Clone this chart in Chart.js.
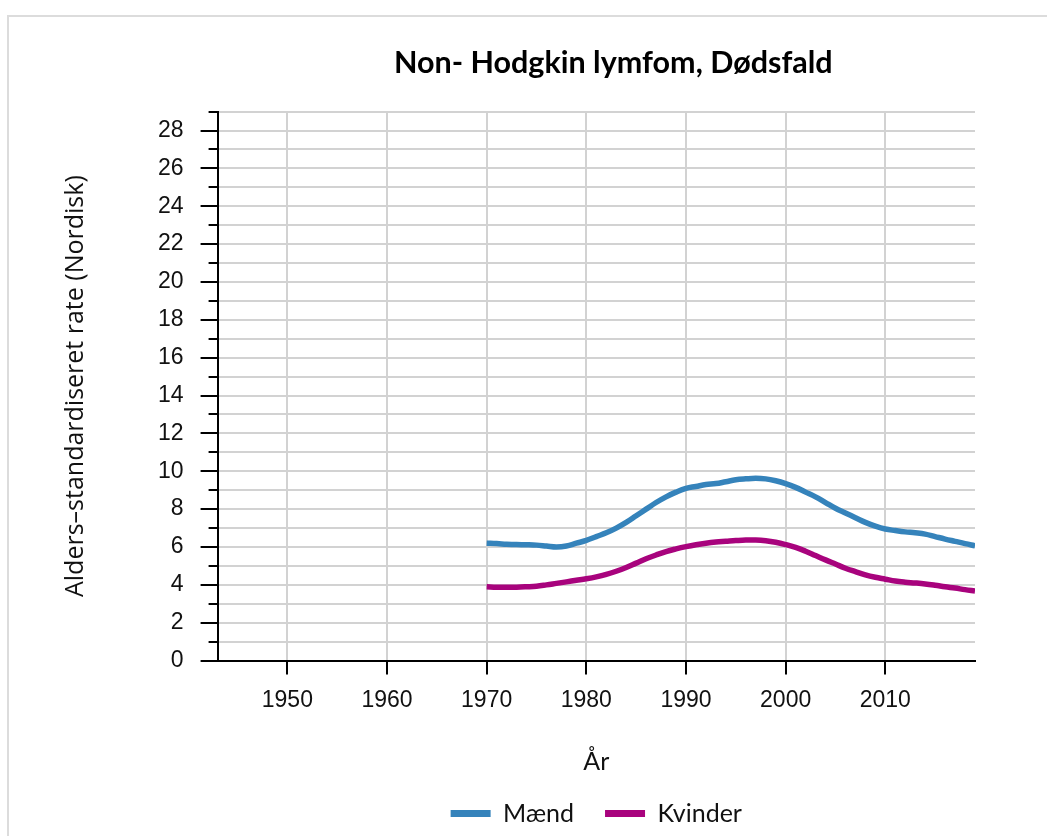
<!DOCTYPE html>
<html>
<head>
<meta charset="utf-8">
<script src="https://cdn.jsdelivr.net/npm/chart.js@4"></script>
<style>
  html, body { margin: 0; padding: 0; background: #fff; overflow: hidden; }
  #frame {
    position: absolute; left: 7px; top: 15px;
    width: 1040px; height: 821px;
    border-top: 2px solid #dcdcdc; border-left: 2px solid #dcdcdc;
  }
  #wrap { position: relative; width: 1038px; height: 819px; }
</style>
</head>
<body>
<div id="frame"><div id="wrap"><canvas id="chart"></canvas></div></div>
<script>
// Non-Hodgkin lymfom, dødsfald - aldersstandardiseret rate (Nordisk)
const years = [
  1970, 1971, 1972, 1973, 1974, 1975, 1976, 1977, 1978, 1979,
  1980, 1981, 1982, 1983, 1984, 1985, 1986, 1987, 1988, 1989,
  1990, 1991, 1992, 1993, 1994, 1995, 1996, 1997, 1998, 1999,
  2000, 2001, 2002, 2003, 2004, 2005, 2006, 2007, 2008, 2009,
  2010, 2011, 2012, 2013, 2014, 2015, 2016, 2017, 2018, 2019
];
const maend = [
  6.20, 6.18, 6.15, 6.13, 6.12, 6.10, 6.05, 6.00, 6.05, 6.20,
  6.35, 6.55, 6.75, 7.00, 7.30, 7.65, 8.00, 8.35, 8.65, 8.90,
  9.10, 9.20, 9.30, 9.35, 9.45, 9.55, 9.60, 9.63, 9.60, 9.50,
  9.35, 9.15, 8.90, 8.65, 8.35, 8.05, 7.80, 7.55, 7.30, 7.10,
  6.95, 6.87, 6.80, 6.75, 6.68, 6.55, 6.42, 6.30, 6.18, 6.07
];
const kvinder = [
  3.90, 3.88, 3.88, 3.88, 3.90, 3.93, 4.00, 4.08, 4.16, 4.24,
  4.32, 4.42, 4.55, 4.72, 4.92, 5.15, 5.38, 5.58, 5.76, 5.90,
  6.02, 6.12, 6.20, 6.26, 6.30, 6.34, 6.37, 6.37, 6.33, 6.25,
  6.13, 5.98, 5.78, 5.55, 5.32, 5.10, 4.88, 4.70, 4.53, 4.40,
  4.30, 4.20, 4.14, 4.10, 4.05, 3.98, 3.90, 3.83, 3.75, 3.68
];
const xTicks = [1950, 1960, 1970, 1980, 1990, 2000, 2010];
const seriesNames = ['Mænd', 'Kvinder'];
const colors = ['#3583bb', '#a8037d'];

const toPoints = arr => arr.map((v, i) => ({ x: years[i], y: v }));

// short minor ticks on the odd y values
const minorTicks = {
  id: 'minorTicks',
  afterDraw(chart) {
    const y = chart.scales.y;
    const c = chart.ctx;
    c.save();
    c.strokeStyle = '#000';
    c.lineWidth = 2;
    y.ticks.forEach(t => {
      if (t.value % 2 === 1) {
        const py = Math.round(y.getPixelForValue(t.value));
        c.beginPath();
        c.moveTo(y.right - 9, py);
        c.lineTo(y.right, py);
        c.stroke();
      }
    });
    c.restore();
  }
};

// title sits a little right of the plot centre in the original
const nudgeTitle = {
  id: 'nudgeTitle',
  afterLayout(chart) {
    const t = chart.titleBlock;
    if (t) { t.left += 17; t.right += 17; }
  }
};

new Chart(document.getElementById('chart'), {
  type: 'line',
  data: {
    datasets: [
      {
        label: seriesNames[0],
        data: toPoints(maend),
        borderColor: colors[0],
        backgroundColor: colors[0],
        borderWidth: 5.5,
        pointRadius: 0,
        tension: 0.4,
        fill: false
      },
      {
        label: seriesNames[1],
        data: toPoints(kvinder),
        borderColor: colors[1],
        backgroundColor: colors[1],
        borderWidth: 5.5,
        pointRadius: 0,
        tension: 0.4,
        fill: false
      }
    ]
  },
  options: {
    responsive: true,
    maintainAspectRatio: false,
    animation: false,
    layout: { padding: { left: 52, right: 72, top: 0, bottom: 0 } },
    plugins: {
      title: {
        display: true,
        text: 'Non- Hodgkin lymfom, Dødsfald',
        fullSize: false,
        color: '#000',
        font: { family: 'Lato', size: 30.5, weight: 'bold' },
        padding: { top: 28, bottom: 30 }
      },
      legend: {
        position: 'bottom',
        fullSize: false,
        labels: {
          color: '#111',
          font: { family: 'Lato', size: 25 },
          boxWidth: 40,
          boxHeight: 7,
          padding: 31,
          generateLabels: chart =>
            Chart.defaults.plugins.legend.labels.generateLabels(chart)
              .map(l => ({ ...l, lineWidth: 0 }))
        }
      },
      tooltip: { enabled: false }
    },
    scales: {
      x: {
        type: 'linear',
        min: 1943,
        max: 2019,
        afterBuildTicks: axis => { axis.ticks = xTicks.map(v => ({ value: v })); },
        grid: {
          color: '#d2d2d2',
          lineWidth: 2,
          tickColor: '#000',
          tickWidth: 2,
          tickLength: 14
        },
        border: { color: '#000', width: 2 },
        ticks: {
          color: '#111',
          font: { family: 'Liberation Sans', size: 23 },
          padding: 12,
          maxRotation: 0,
          callback: v => String(v)
        },
        title: {
          display: true,
          text: 'År',
          color: '#111',
          font: { family: 'Lato', size: 25 },
          padding: { top: 20.6, bottom: -6.8 }
        }
      },
      y: {
        min: 0,
        max: 29,
        grid: {
          color: '#d2d2d2',
          lineWidth: 2,
          tickColor: ctx => (ctx.tick && ctx.tick.value % 2 === 1) ? 'rgba(0,0,0,0)' : '#000',
          tickWidth: 2,
          tickLength: 17
        },
        border: { color: '#000', width: 2 },
        ticks: {
          stepSize: 1,
          autoSkip: false,
          color: '#111',
          font: { family: 'Liberation Sans', size: 23 },
          padding: 17,
          callback: v => (v % 2 === 0 ? String(v) : '')
        },
        title: {
          display: true,
          text: 'Alders–standardiseret rate (Nordisk)',
          color: '#111',
          font: { family: 'Open Sans', size: 25 },
          padding: { top: 0, bottom: 50 }
        }
      }
    }
  },
  plugins: [minorTicks, nudgeTitle]
});
</script>
</body>
</html>
